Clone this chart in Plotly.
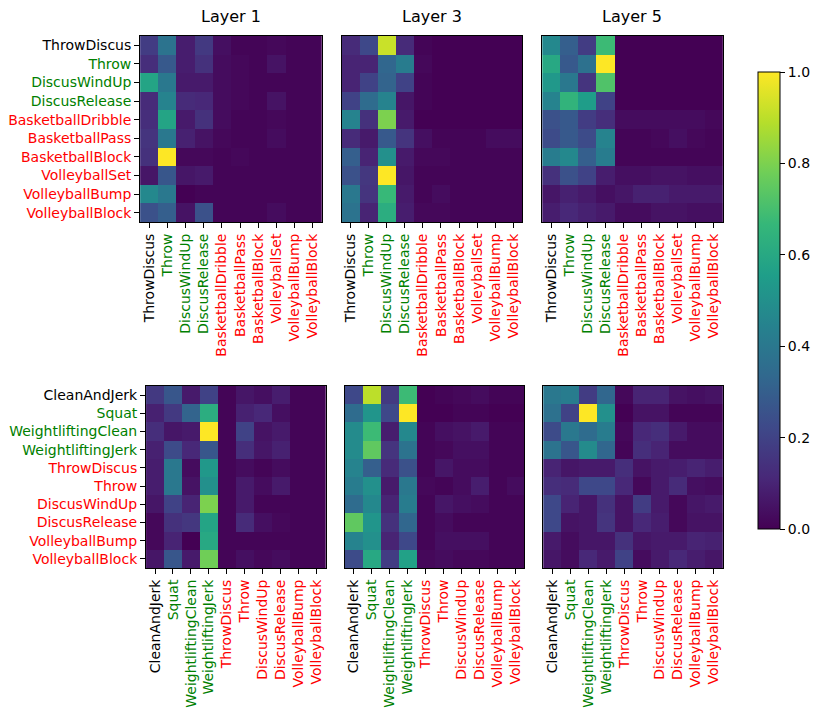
import plotly.graph_objects as go

# ---------------- data ----------------
top_labels = ["ThrowDiscus", "Throw", "DiscusWindUp", "DiscusRelease", "BasketballDribble",
              "BasketballPass", "BasketballBlock", "VolleyballSet", "VolleyballBump", "VolleyballBlock"]
top_colors = ["black", "green", "green", "green", "red", "red", "red", "red", "red", "red"]

bottom_labels = ["CleanAndJerk", "Squat", "WeightliftingClean", "WeightliftingJerk", "ThrowDiscus",
                 "Throw", "DiscusWindUp", "DiscusRelease", "VolleyballBump", "VolleyballBlock"]
bottom_colors = ["black", "green", "green", "green", "red", "red", "red", "red", "red", "red"]

layer_titles = ["Layer 1", "Layer 3", "Layer 5"]

top_layer1 = [
    [0.18, 0.38, 0.08, 0.17, 0.04, 0.01, 0.01, 0.02, 0.01, 0.01],
    [0.13, 0.28, 0.08, 0.14, 0.03, 0.02, 0.01, 0.05, 0.01, 0.01],
    [0.58, 0.40, 0.07, 0.07, 0.03, 0.02, 0.01, 0.01, 0.01, 0.01],
    [0.12, 0.45, 0.12, 0.11, 0.03, 0.02, 0.01, 0.05, 0.01, 0.01],
    [0.13, 0.58, 0.07, 0.14, 0.03, 0.01, 0.01, 0.02, 0.01, 0.01],
    [0.15, 0.40, 0.09, 0.05, 0.02, 0.01, 0.01, 0.03, 0.01, 0.01],
    [0.14, 1.00, 0.02, 0.02, 0.01, 0.02, 0.01, 0.01, 0.01, 0.01],
    [0.06, 0.27, 0.06, 0.07, 0.01, 0.01, 0.01, 0.01, 0.01, 0.01],
    [0.47, 0.40, 0.00, 0.01, 0.01, 0.01, 0.01, 0.01, 0.01, 0.01],
    [0.25, 0.30, 0.05, 0.25, 0.01, 0.01, 0.01, 0.03, 0.01, 0.01],
]
top_layer3 = [
    [0.12, 0.22, 0.92, 0.12, 0.01, 0.00, 0.00, 0.00, 0.00, 0.00],
    [0.10, 0.10, 0.33, 0.42, 0.02, 0.00, 0.00, 0.00, 0.00, 0.00],
    [0.10, 0.20, 0.32, 0.20, 0.01, 0.00, 0.00, 0.00, 0.00, 0.00],
    [0.20, 0.35, 0.45, 0.06, 0.01, 0.00, 0.00, 0.00, 0.00, 0.00],
    [0.45, 0.14, 0.80, 0.07, 0.00, 0.00, 0.00, 0.00, 0.00, 0.00],
    [0.12, 0.07, 0.28, 0.15, 0.04, 0.01, 0.01, 0.01, 0.03, 0.03],
    [0.30, 0.10, 0.50, 0.07, 0.02, 0.02, 0.01, 0.01, 0.01, 0.01],
    [0.25, 0.16, 1.00, 0.06, 0.01, 0.01, 0.01, 0.01, 0.01, 0.01],
    [0.40, 0.15, 0.67, 0.07, 0.01, 0.03, 0.01, 0.01, 0.01, 0.01],
    [0.38, 0.10, 0.62, 0.08, 0.02, 0.02, 0.01, 0.01, 0.01, 0.01],
]
top_layer5 = [
    [0.47, 0.30, 0.18, 0.68, 0.00, 0.00, 0.00, 0.00, 0.00, 0.00],
    [0.60, 0.28, 0.37, 1.00, 0.00, 0.00, 0.00, 0.00, 0.00, 0.00],
    [0.53, 0.40, 0.15, 0.72, 0.00, 0.00, 0.00, 0.00, 0.00, 0.00],
    [0.45, 0.65, 0.55, 0.20, 0.00, 0.00, 0.00, 0.00, 0.00, 0.00],
    [0.25, 0.28, 0.18, 0.13, 0.03, 0.03, 0.03, 0.03, 0.03, 0.02],
    [0.23, 0.28, 0.23, 0.45, 0.01, 0.01, 0.02, 0.04, 0.02, 0.01],
    [0.42, 0.47, 0.30, 0.42, 0.01, 0.01, 0.01, 0.01, 0.01, 0.01],
    [0.14, 0.25, 0.20, 0.08, 0.04, 0.04, 0.05, 0.05, 0.04, 0.04],
    [0.06, 0.09, 0.07, 0.04, 0.06, 0.09, 0.09, 0.07, 0.07, 0.07],
    [0.08, 0.11, 0.09, 0.07, 0.03, 0.03, 0.05, 0.05, 0.04, 0.04],
]
bottom_layer1 = [
    [0.17, 0.27, 0.07, 0.20, 0.01, 0.06, 0.04, 0.08, 0.01, 0.01],
    [0.09, 0.17, 0.32, 0.62, 0.01, 0.09, 0.11, 0.04, 0.01, 0.01],
    [0.13, 0.06, 0.07, 1.00, 0.01, 0.20, 0.05, 0.07, 0.01, 0.01],
    [0.09, 0.23, 0.11, 0.27, 0.01, 0.13, 0.06, 0.09, 0.01, 0.01],
    [0.08, 0.40, 0.03, 0.53, 0.01, 0.03, 0.01, 0.03, 0.01, 0.01],
    [0.08, 0.40, 0.05, 0.50, 0.01, 0.07, 0.03, 0.07, 0.01, 0.01],
    [0.06, 0.20, 0.10, 0.80, 0.01, 0.07, 0.01, 0.01, 0.01, 0.01],
    [0.02, 0.14, 0.16, 0.58, 0.01, 0.12, 0.04, 0.02, 0.01, 0.01],
    [0.02, 0.10, 0.00, 0.60, 0.01, 0.01, 0.01, 0.01, 0.01, 0.01],
    [0.06, 0.27, 0.07, 0.78, 0.01, 0.04, 0.02, 0.03, 0.01, 0.01],
]
bottom_layer3 = [
    [0.22, 0.90, 0.17, 0.68, 0.00, 0.01, 0.02, 0.03, 0.01, 0.01],
    [0.35, 0.52, 0.22, 1.00, 0.00, 0.00, 0.01, 0.01, 0.00, 0.00],
    [0.48, 0.68, 0.08, 0.47, 0.01, 0.04, 0.05, 0.07, 0.01, 0.01],
    [0.48, 0.75, 0.15, 0.38, 0.01, 0.02, 0.04, 0.04, 0.01, 0.01],
    [0.45, 0.30, 0.12, 0.25, 0.01, 0.06, 0.03, 0.03, 0.01, 0.01],
    [0.42, 0.50, 0.07, 0.40, 0.02, 0.01, 0.03, 0.08, 0.01, 0.03],
    [0.35, 0.47, 0.10, 0.42, 0.01, 0.06, 0.04, 0.03, 0.01, 0.01],
    [0.75, 0.52, 0.14, 0.33, 0.01, 0.03, 0.01, 0.01, 0.01, 0.01],
    [0.45, 0.50, 0.10, 0.22, 0.01, 0.04, 0.04, 0.04, 0.01, 0.01],
    [0.23, 0.60, 0.18, 0.57, 0.02, 0.03, 0.02, 0.02, 0.01, 0.01],
]
bottom_layer5 = [
    [0.40, 0.42, 0.18, 0.33, 0.02, 0.10, 0.10, 0.05, 0.04, 0.05],
    [0.37, 0.20, 1.00, 0.50, 0.00, 0.05, 0.05, 0.01, 0.01, 0.01],
    [0.23, 0.40, 0.35, 0.42, 0.02, 0.11, 0.13, 0.07, 0.03, 0.03],
    [0.38, 0.27, 0.48, 0.33, 0.01, 0.13, 0.10, 0.03, 0.03, 0.03],
    [0.10, 0.06, 0.07, 0.07, 0.13, 0.05, 0.07, 0.08, 0.10, 0.08],
    [0.13, 0.12, 0.22, 0.22, 0.11, 0.02, 0.07, 0.12, 0.04, 0.03],
    [0.22, 0.10, 0.06, 0.14, 0.05, 0.18, 0.07, 0.02, 0.06, 0.07],
    [0.22, 0.05, 0.06, 0.15, 0.05, 0.11, 0.08, 0.02, 0.05, 0.05],
    [0.07, 0.03, 0.06, 0.06, 0.14, 0.06, 0.07, 0.07, 0.10, 0.09],
    [0.06, 0.03, 0.11, 0.07, 0.20, 0.03, 0.07, 0.11, 0.08, 0.06],
]

# ---------------- layout helpers ----------------
W, H = 830, 715
OFF = 8  # page body margin in the browser
FONT = "DejaVu Sans"

def px_x(a, b):
    return [(a - OFF) / W, (b - OFF) / W]

def px_y(top, bottom):
    return [1 - (bottom - OFF) / H, 1 - (top - OFF) / H]

panels = [
    # (matrix, labels, colors, x-domain px, y-domain px, show y labels)
    (top_layer1, top_labels, top_colors, (135, 318), (36, 222), True),
    (top_layer3, top_labels, top_colors, (338, 520), (36, 222), False),
    (top_layer5, top_labels, top_colors, (540, 722), (36, 222), False),
    (bottom_layer1, bottom_labels, bottom_colors, (141, 322), (386, 568), True),
    (bottom_layer3, bottom_labels, bottom_colors, (341, 522), (386, 568), False),
    (bottom_layer5, bottom_labels, bottom_colors, (541, 722), (386, 568), False),
]

fig = go.Figure()
layout = dict(
    width=W, height=H,
    margin=dict(l=0, r=0, t=0, b=0),
    paper_bgcolor="white", plot_bgcolor="white",
    font=dict(family=FONT, size=14, color="black"),
    showlegend=False,
    coloraxis=dict(
        colorscale="Viridis", cmin=0, cmax=1,
        colorbar=dict(
            x=(757 - OFF) / W, xanchor="left", xpad=0,
            y=1 - (300.5 - OFF) / H, yanchor="middle", ypad=0,
            len=457, lenmode="pixels",
            thickness=22, thicknessmode="pixels",
            outlinewidth=1, outlinecolor="black",
            ticks="outside", ticklen=5, tickwidth=1, tickcolor="black",
            tickvals=[0, 0.2, 0.4, 0.6, 0.8, 1.0],
            tickformat=".1f",
            tickfont=dict(family=FONT, size=14, color="black"),
        ),
    ),
)

annotations = []
for i, (mat, labels, colors, xd, yd, showy) in enumerate(panels):
    n = i + 1
    xa = "x" if n == 1 else f"x{n}"
    ya = "y" if n == 1 else f"y{n}"
    idx = list(range(len(labels)))
    colored = [f"<span style='color:{c}'>{t}</span>" for t, c in zip(labels, colors)]
    fig.add_trace(go.Heatmap(
        z=mat, x=idx, y=idx, coloraxis="coloraxis",
        xaxis=xa, yaxis=ya, hoverinfo="z",
    ))
    layout["xaxis" if n == 1 else f"xaxis{n}"] = dict(
        domain=px_x(*xd), anchor=ya, range=[-0.5, len(labels) - 0.5],
        tickmode="array", tickvals=idx, ticktext=colored, tickangle=-90,
        ticks="outside", ticklen=5, tickwidth=1, tickcolor="black",
        showline=True, linecolor="black", linewidth=1, mirror=True,
        showgrid=False, zeroline=False, fixedrange=True,
        tickfont=dict(family=FONT, size=14),
    )
    ydict = dict(
        domain=px_y(*yd), anchor=xa, range=[len(labels) - 0.5, -0.5],
        showline=True, linecolor="black", linewidth=1, mirror=True,
        showgrid=False, zeroline=False, fixedrange=True,
        tickfont=dict(family=FONT, size=14),
    )
    if showy:
        ydict.update(tickmode="array", tickvals=idx, ticktext=colored,
                     ticks="outside", ticklen=5, tickwidth=1, tickcolor="black")
    else:
        ydict.update(showticklabels=False, ticks="")
    layout["yaxis" if n == 1 else f"yaxis{n}"] = ydict

    if i < 3:
        annotations.append(dict(
            text=layer_titles[i], xref="paper", yref="paper",
            x=((xd[0] + xd[1]) / 2 - OFF) / W, y=1.0,
            xanchor="center", yanchor="top", showarrow=False,
            borderpad=0, yshift=2,
            font=dict(family=FONT, size=16, color="black"),
        ))

layout["annotations"] = annotations
fig.update_layout(**layout)
fig.write_html("out.html")
